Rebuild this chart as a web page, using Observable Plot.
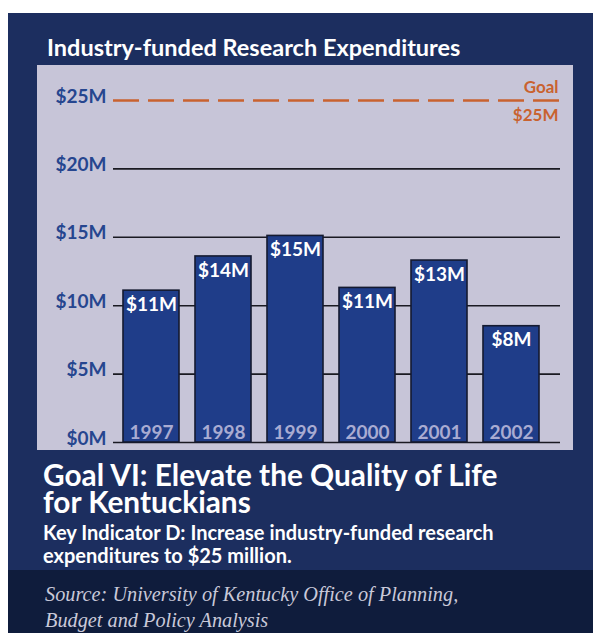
<!DOCTYPE html>
<html>
<head>
<meta charset="utf-8">
<script src="https://cdn.jsdelivr.net/npm/d3@7"></script>
<script src="https://cdn.jsdelivr.net/npm/@observablehq/plot@0.6"></script>
<style>
  html, body { margin: 0; padding: 0; background: #ffffff; }
  body { width: 593px; height: 633px; position: relative; overflow: hidden; font-family: Lato, "Open Sans", sans-serif; }
  #frame { position: absolute; left: 8px; top: 13px; width: 585px; height: 620px; background: #1c2e5f; overflow: hidden; }
  #title { position: absolute; left: 47px; top: 34px; color: #ffffff; font-weight: 700; font-size: 23.5px; line-height: 26px; white-space: nowrap; }
  #chart { position: absolute; left: 37px; top: 65px; width: 536px; height: 385px; }
  .goal { position: absolute; left: 43px; color: #ffffff; font-weight: 700; font-size: 29.8px; line-height: 30px; white-space: nowrap; }
  .key { position: absolute; left: 43px; color: #ffffff; font-weight: 700; font-size: 20px; line-height: 23px; white-space: nowrap; }
  #sourceband { position: absolute; left: 8px; top: 570px; width: 585px; height: 63px; background: #0f1c3c; }
  #source { position: absolute; left: 45px; top: 581px; color: #c9c9d9; font-family: "Liberation Serif", serif; font-style: italic; font-size: 20.3px; line-height: 26px; white-space: nowrap; }
</style>
</head>
<body>
<div id="frame"></div>
<div id="sourceband"></div>
<div id="title">Industry-funded Research Expenditures</div>
<div id="chart"></div>
<div class="goal" style="top:460px">Goal VI: Elevate the Quality of Life</div>
<div class="goal" style="top:487px">for Kentuckians</div>
<div class="key" style="top:521px">Key Indicator D: Increase industry-funded research</div>
<div class="key" style="top:544px">expenditures to $25 million.</div>
<div id="source">Source: University of Kentucky Office of Planning,<br>Budget and Policy Analysis</div>
<script>
const years = ["1997", "1998", "1999", "2000", "2001", "2002"];
const values = [11.1, 13.6, 15.1, 11.3, 13.3, 8.5];
const valueLabels = ["$11M", "$14M", "$15M", "$11M", "$13M", "$8M"];
const gridTicks = [0, 5, 10, 15, 20];
const axisTicks = [0, 5, 10, 15, 20, 25];
const goalValue = 25;
const goalLabels = ["Goal", "$25M"];

const data = years.map((y, i) => ({year: y, value: values[i], label: valueLabels[i]}));

const plot = Plot.plot({
  width: 536,
  height: 385,
  marginLeft: 76,
  marginRight: 13,
  marginTop: 35,
  marginBottom: 8,
  style: {background: "#c7c5d8", fontFamily: "Lato, 'Open Sans', sans-serif", overflow: "visible"},
  x: {domain: years, paddingInner: 0.22, paddingOuter: 0.2, align: 0.34, axis: null},
  y: {domain: [0, 25], axis: null},
  marks: [
    Plot.ruleY(gridTicks, {stroke: "#1a1a22", strokeWidth: 1.6}),
    Plot.ruleY([goalValue], {stroke: "#c9622f", strokeWidth: 2.6, strokeDasharray: "26,9"}),
    Plot.barY(data, {x: "year", y: "value", fill: "#1f3d89", stroke: "#141a30", strokeWidth: 1.6}),
    Plot.text(data, {x: "year", y: "value", text: "label", dy: 14, fill: "#ffffff", fontSize: 19, fontWeight: 700}),
    Plot.text(data, {x: "year", y: 0, text: "year", dy: -10, fill: "#a9acd2", fontSize: 19, fontWeight: 700}),
    Plot.axisY(axisTicks, {tickSize: 0, tickPadding: 7, tickFormat: d => `$${d}M`, fontSize: 19, fontWeight: 700, fill: "#26468f", dy: -4, label: null}),
    Plot.text([goalLabels[0]], {frameAnchor: "right", y: () => goalValue, text: d => d, dx: -2, dy: -13, textAnchor: "end", fill: "#c9622f", fontSize: 17, fontWeight: 700}),
    Plot.text([goalLabels[1]], {frameAnchor: "right", y: () => goalValue, text: d => d, dx: -2, dy: 15, textAnchor: "end", fill: "#c9622f", fontSize: 17, fontWeight: 700})
  ]
});
document.getElementById("chart").appendChild(plot);
</script>
</body>
</html>
